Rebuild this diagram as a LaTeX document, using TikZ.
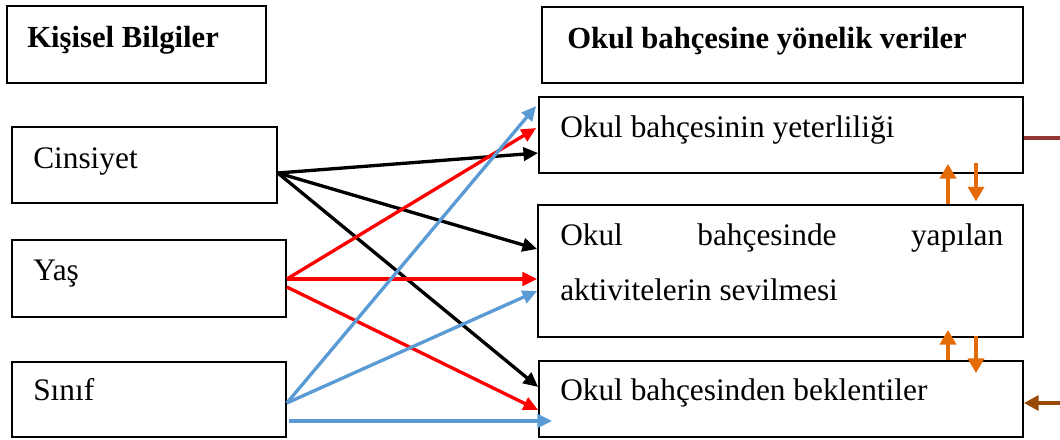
\documentclass[tikz,border=0pt]{standalone}
\usepackage{fontspec}
\setmainfont{Liberation Serif}
\usetikzlibrary{arrows.meta,fit}
\definecolor{myblue}{HTML}{5B9BD5}
\definecolor{myorange}{HTML}{E36C09}
\definecolor{mybrownA}{HTML}{953735}
\definecolor{mybrownB}{HTML}{984807}
\tikzset{
  box/.style={draw=black,line width=1.3pt,inner sep=0pt,fill=none},
  lbl/.style={anchor=base west,inner sep=0pt,font=\fontsize{23.5}{28}\selectfont},
  blbl/.style={lbl,font=\fontsize{23}{28}\selectfont\bfseries},
  conn/.style={line width=2.5pt,-{Triangle[length=11pt,width=10pt]}},
  blk/.style={conn,draw=black},
  redc/.style={conn,draw=red},
  bluec/.style={conn,draw=myblue},
  oarr/.style={line width=3.2pt,draw=myorange,-{Triangle[length=11pt,width=12pt]}},
}
\begin{document}
\begin{tikzpicture}[x=0.75pt,y=-0.75pt]
\useasboundingbox (0,0) rectangle (1060,439);
% boxes
\node[box,fit={(7,6) (266,83)}] (kb) {};
\node[box,fit={(542,7) (1023,83)}] (ob) {};
\node[box,fit={(12,127) (277,203)}] (cins) {};
\node[box,fit={(12,240) (286,317)}] (yas) {};
\node[box,fit={(12,362) (286,437)}] (sinif) {};
\node[box,fit={(539,97) (1023,173)}] (b1) {};
\node[box,fit={(538,205) (1023,337)}] (b2) {};
\node[box,fit={(539,361) (1023,437)}] (b3) {};
% texts
\node[blbl] (kbT) at (27,47) {Kişisel Bilgiler};
\node[blbl] (obT) at (567,48) {Okul bahçesine yönelik veriler};
\node[lbl] (cinsT) at (33,168) {Cinsiyet};
\node[lbl] (yasT) at (33,280) {Yaş};
\node[lbl] (sinifT) at (33,400) {Sınıf};
\node[lbl] (b1T) at (560,137) {Okul bahçesinin yeterliliği};
\node[lbl] (b2Ta) at (560,245) {\makebox[332.25pt][s]{Okul\hfill bahçesinde\hfill yapılan}};
\node[lbl] (b2Tb) at (560,300) {aktivitelerin sevilmesi};
\node[lbl] (b3T) at (560,400) {Okul bahçesinden beklentiler};
% black connectors
\draw[blk] (cins.east |- 0,173) -- (b1.west |- 0,153);
\draw[blk] (cins.east |- 0,173) -- (b2.west |- 0,249);
\draw[blk] (cins.east |- 0,173) -- (b3.west |- 0,387);
% red connectors
\draw[redc] (yas.east |- 0,279) -- ([xshift=-1.5pt]b1.west |- 0,128);
\draw[redc] (yas.east |- 0,279) -- (b2.west |- 0,279);
\draw[redc] (yas.east |- 0,287) -- (b3.west |- 0,410);
% blue connectors
\draw[bluec] (sinif.east |- 0,403) -- ([xshift=-1.5pt]b1.west |- 0,106);
\draw[bluec] (sinif.east |- 0,403) -- (b2.west |- 0,291);
\draw[bluec,shorten >=-10.5pt] ([xshift=1.5pt]sinif.east |- 0,421) -- (b3.west |- 0,421);
% orange arrows
\draw[oarr,shorten >=-7.5pt] (b2.north -| 948,0) -- (b1.south -| 948,0);
\draw[oarr,shorten <=-8pt,shorten >=2pt] (b1.south -| 976,0) -- (b2.north -| 976,0);
\draw[oarr,shorten >=-6pt] (b3.north -| 948,0) -- (b2.south -| 948,0);
\draw[oarr,shorten <=-1.5pt,shorten >=-9.75pt] (b2.south -| 976,0) -- (b3.north -| 976,0);
% brown
\coordinate (rEdgeA) at (1064,138);
\coordinate (rEdgeB) at (1064,403);
\draw[line width=3pt,draw=mybrownA] (b1.east |- 0,138) -- (rEdgeA);
\draw[line width=3pt,draw=mybrownB,-{Triangle[length=11pt,width=11pt]}] (rEdgeB) -- (b3.east |- 0,403);
\end{tikzpicture}
\end{document}
